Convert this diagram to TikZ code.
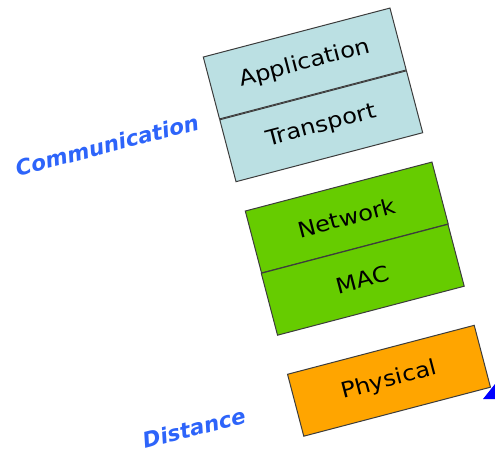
\documentclass[tikz,border=0pt]{standalone}
\usepackage{fontspec}
\setmainfont{DejaVu Sans}
\newfontfamily\boxfont[FakeStretch=1.12]{DejaVu Sans}
\definecolor{lblue}{RGB}{187,224,227}
\definecolor{lgreen}{RGB}{102,204,0}
\definecolor{lorange}{RGB}{255,165,0}
\definecolor{labelblue}{RGB}{45,100,250}
\definecolor{edge}{RGB}{60,60,60}
\begin{document}
\begin{tikzpicture}[x=1pt,y=-1pt,
 layer/.style={draw=edge, line width=1pt, rotate=14.7, minimum width=193pt, minimum height=64pt, inner sep=0pt, text=black, font=\boxfont\fontsize{21.5}{21.5}\selectfont},
 lbl/.style={rotate=14.5, text=labelblue, inner sep=0pt, font=\fontsize{21.5}{21.5}\selectfont\bfseries\itshape}]
\useasboundingbox (0,0) rectangle (495,457);
\node[layer, fill=lblue] (app) at (304.75,63.5) {Application};
\node[layer, fill=lblue] (tra) at (321.25,126.25) {Transport};
\node[layer, fill=lgreen] (net) at (346.75,217.5) {Network};
\node[layer, fill=lgreen] (mac) at (362.75,279.75) {MAC};
\node[layer, fill=lorange] (phy) at (389,380.75) {Physical};
\node[lbl] (comm) at (107,145) {Communication};
\node[lbl] (dist) at (194,428) {Distance};
\fill[blue] (483,399) -- (495,384) -- (495,399) -- cycle;
\end{tikzpicture}
\end{document}
